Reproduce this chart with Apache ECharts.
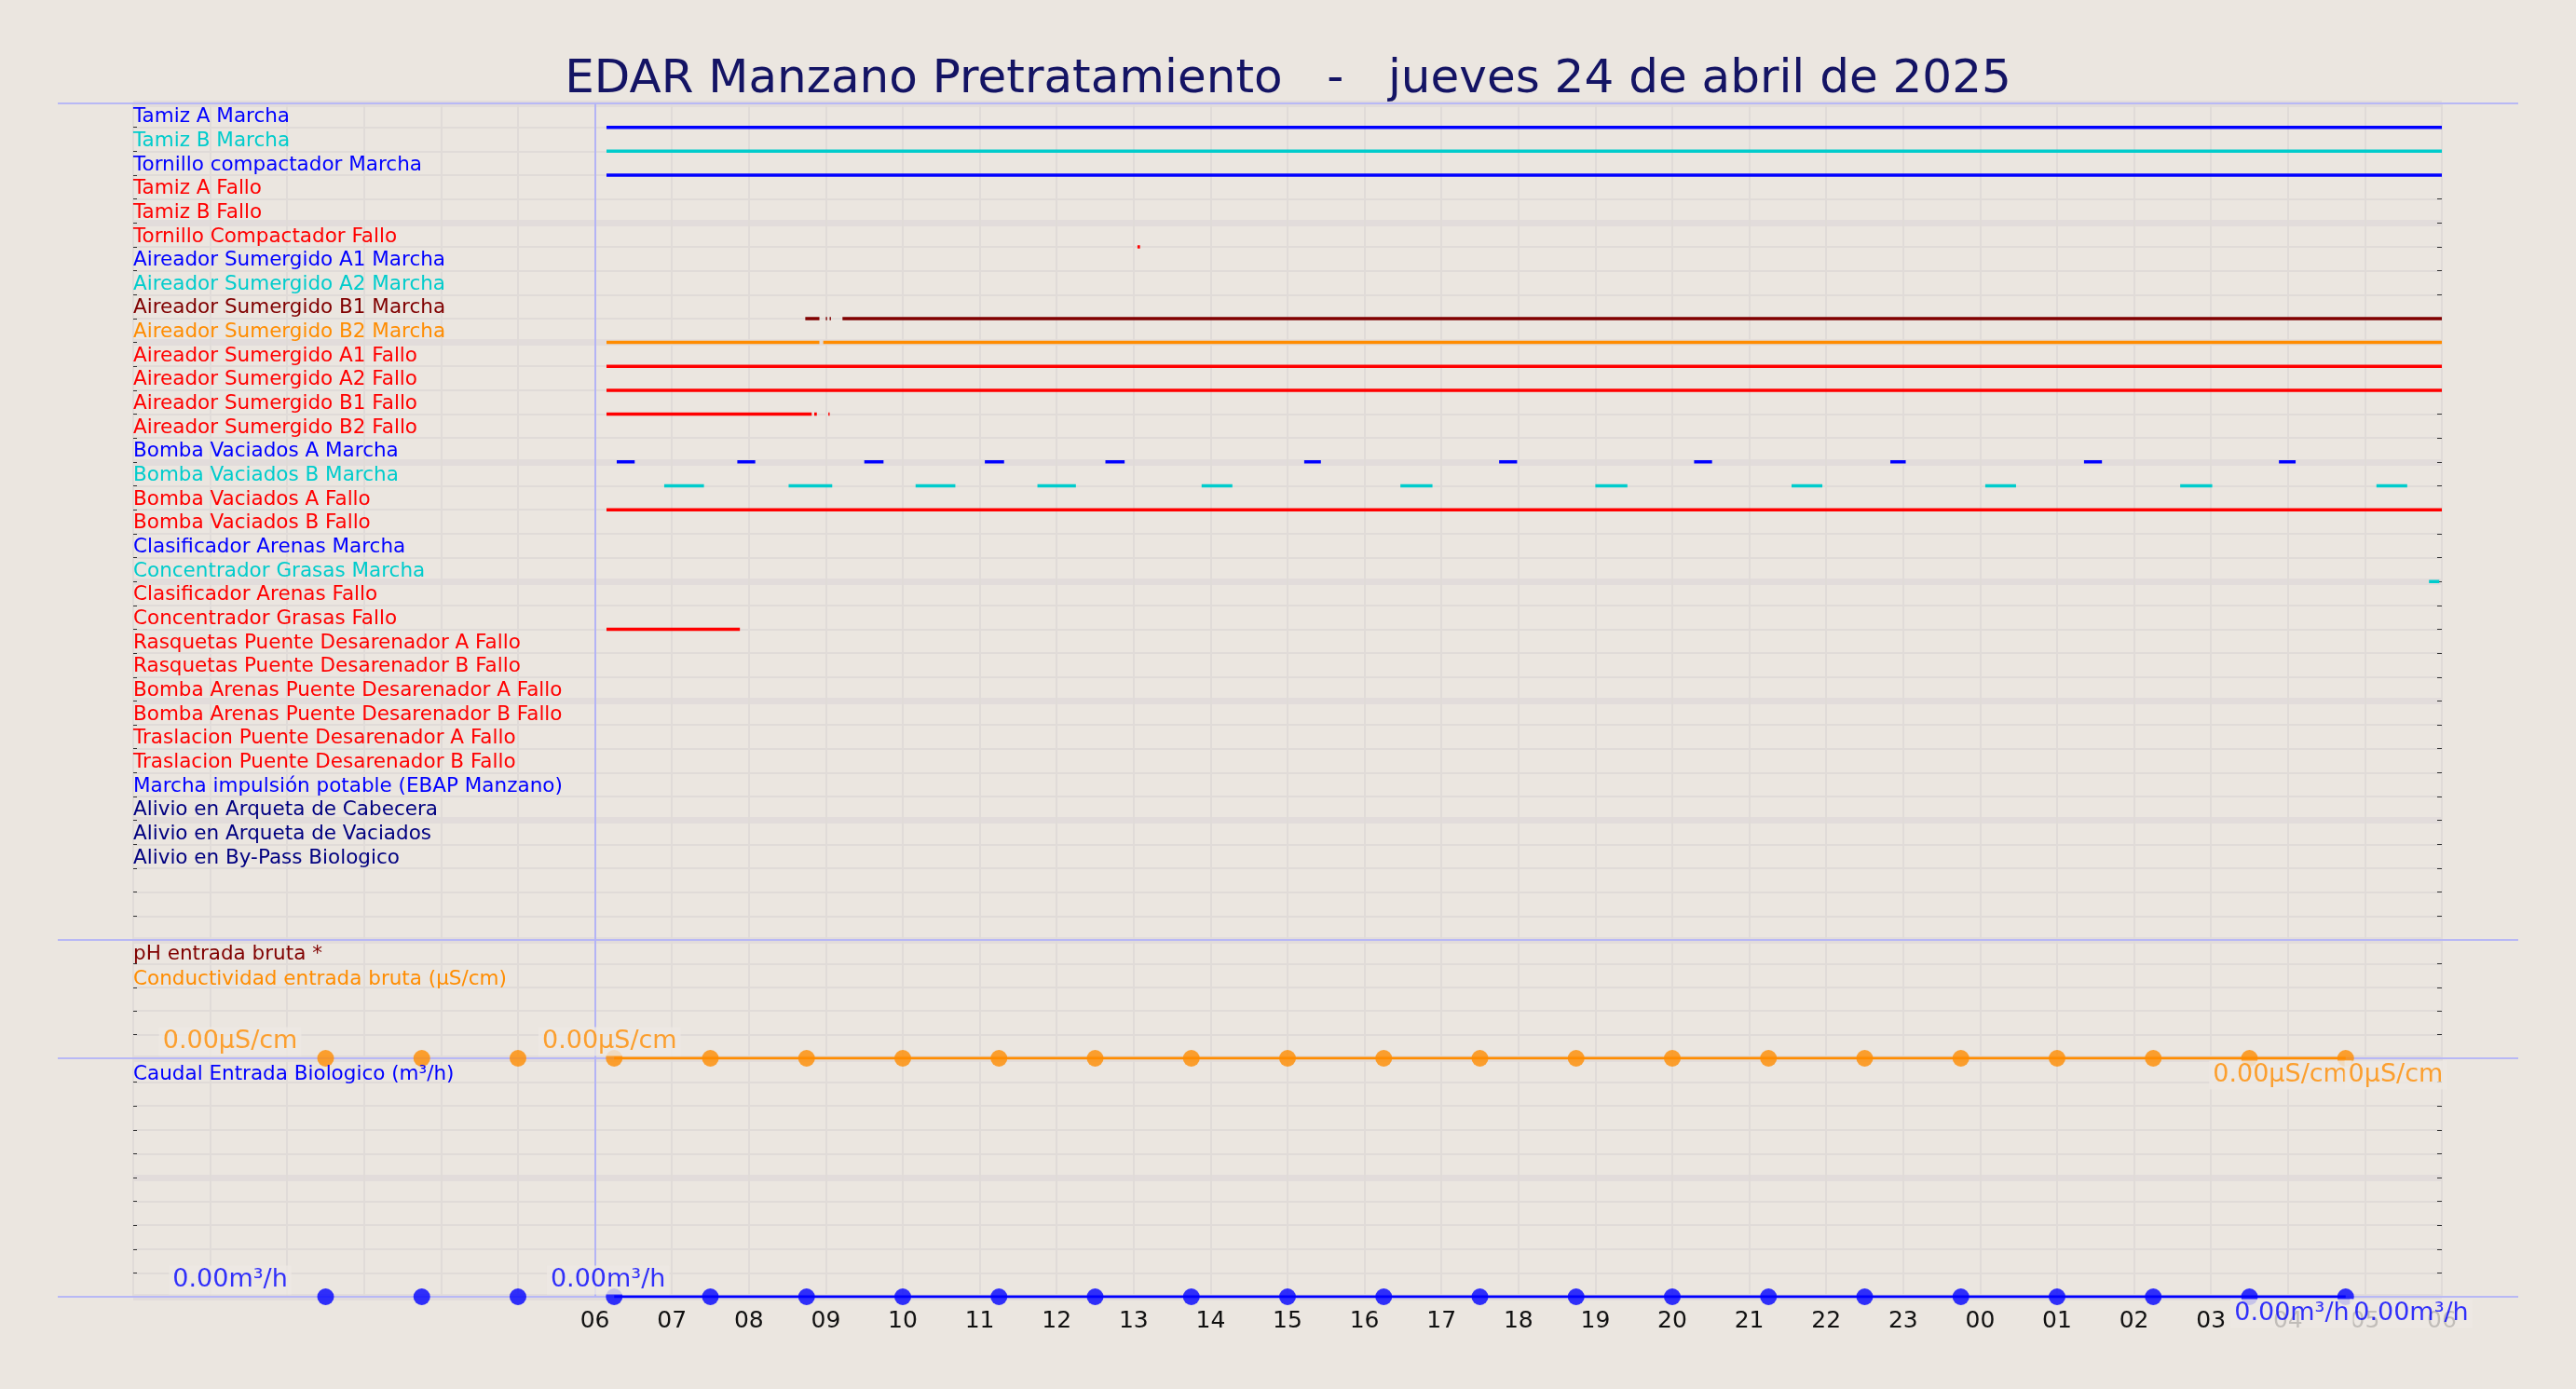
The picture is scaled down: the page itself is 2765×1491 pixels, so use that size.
<!DOCTYPE html>
<html><head><meta charset="utf-8">
<script src="https://cdn.jsdelivr.net/npm/echarts@6/dist/echarts.min.js"></script>
<style>html,body{margin:0;background:#ebe6e0}#c{width:2765px;height:1491px}</style>
</head><body><div id="c"></div>
<script>
const title = 'EDAR Manzano Pretratamiento   -   jueves 24 de abril de 2025';
const rowLabels = ['Tamiz A Marcha','Tamiz B Marcha','Tornillo compactador Marcha','Tamiz A Fallo','Tamiz B Fallo','Tornillo Compactador Fallo','Aireador Sumergido A1 Marcha','Aireador Sumergido A2 Marcha','Aireador Sumergido B1 Marcha','Aireador Sumergido B2 Marcha','Aireador Sumergido A1 Fallo','Aireador Sumergido A2 Fallo','Aireador Sumergido B1 Fallo','Aireador Sumergido B2 Fallo','Bomba Vaciados A Marcha','Bomba Vaciados B Marcha','Bomba Vaciados A Fallo','Bomba Vaciados B Fallo','Clasificador Arenas Marcha','Concentrador Grasas Marcha','Clasificador Arenas Fallo','Concentrador Grasas Fallo','Rasquetas Puente Desarenador A Fallo','Rasquetas Puente Desarenador B Fallo','Bomba Arenas Puente Desarenador A Fallo','Bomba Arenas Puente Desarenador B Fallo','Traslacion Puente Desarenador A Fallo','Traslacion Puente Desarenador B Fallo','Marcha impulsión potable (EBAP Manzano)','Alivio en Arqueta de Cabecera','Alivio en Arqueta de Vaciados','Alivio en By-Pass Biologico','',''];
const rowColors = ['#0000ff','#00cccc','#0000ff','#ff0000','#ff0000','#ff0000','#0000ff','#00cccc','#800000','#ff8c00','#ff0000','#ff0000','#ff0000','#ff0000','#0000ff','#00cccc','#ff0000','#ff0000','#0000ff','#00cccc','#ff0000','#ff0000','#ff0000','#ff0000','#ff0000','#ff0000','#ff0000','#ff0000','#0000ff','#000080','#000080','#000080','#000','#000'];
// segments per row (1-based row index): [start,end] clock times, times before 06:00 are next day
const segments = {
 1:[['06:09','06:00']],
 2:[['06:09','06:00']],
 3:[['06:09','06:00']],
 6:[['13:03','13:05']],
 9:[['08:44','08:55'],['09:00','09:01'],['09:03','09:04'],['09:13','06:00']],
 10:[['06:09','08:55'],['08:58','06:00']],
 11:[['06:09','06:00']],
 12:[['06:09','06:00']],
 13:[['06:09','08:49'],['08:51','08:53'],['09:02','09:03']],
 15:[['06:17','06:31'],['07:51','08:05'],['09:30','09:45'],['11:04','11:19'],['12:38','12:53'],['15:13','15:26'],['17:45','17:59'],['20:17','20:31'],['22:50','23:02'],['01:21','01:35'],['03:53','04:06']],
 16:[['06:54','07:25'],['08:31','09:05'],['10:10','10:41'],['11:45','12:15'],['13:53','14:17'],['16:28','16:53'],['19:00','19:25'],['21:33','21:57'],['00:04','00:28'],['02:36','03:01'],['05:09','05:33']],
 17:[['06:09','06:00']],
 20:[['05:50','05:58']],
 22:[['06:09','07:53']]
};
// sample times (hours from 00:00 of 24 Apr) for analog signals
const sampleHours = [2.5,3.75,5,6.25,7.5,8.75,10,11.25,12.5,13.75,15,16.25,17.5,18.75,20,21.25,22.5,23.75,25,26.25,27.5,28.75];
const condValues = [0,0,0,0,0,0,0,0,0,0,0,0,0,0,0,0,0,0,0,0,0,0];
const caudalValues = [0,0,0,0,0,0,0,0,0,0,0,0,0,0,0,0,0,0,0,0,0,0];
const condNotes = [[1.26,'0.00μS/cm','top'],[6.19,'0.00μS/cm','top'],[27.9,'0.00μS/cm','bottom'],[29.4,'0μS/cm','bottom']];
const caudalNotes = [[1.26,'0.00m³/h','top'],[6.17,'0.00m³/h','top'],[28.05,'0.00m³/h','bottom'],[29.6,'0.00m³/h','bottom']];

function toH(s, isEnd){const [h,m]=s.split(':').map(Number);let v=h+m/60; if(h<6 || (isEnd && h===6 && m===0)) v+=24; return v;}
const F='DejaVu Sans', BG='#ebe6e0', GRIDC='#e0dbd8';
const L=143, W=2478, NR=35;
const grids=[{left:L,width:W,top:111,height:898},{left:L,width:W,top:1009,height:127},{left:L,width:W,top:1136,height:256}];
const xAxes=grids.map((g,i)=>({type:'value',gridIndex:i,min:0,max:30,interval:1,
  axisLine:{show:false},axisTick:{show:false},
  axisLabel:{show:i===2,fontFamily:F,fontSize:25,color:'#111',margin:14,formatter:v=>v<6?'':String(Math.round(v)%24).padStart(2,'0')},
  splitLine:{show:true,lineStyle:{color:GRIDC,width:2}}}));
const rich={};rowColors.forEach((c,i)=>rich['r'+i]={color:c,fontFamily:F,fontSize:21.5});
const yAxes=[
 {type:'value',gridIndex:0,min:0,max:NR,interval:1,inverse:true,axisLine:{show:false},
  axisTick:{show:true,inside:true,length:4,lineStyle:{color:'#333'}},
  axisLabel:{inside:true,align:'left',verticalAlign:'bottom',margin:0,rich,
   formatter:v=>{const i=v-1;return (i>=0&&i<rowLabels.length&&rowLabels[i])?'{r'+i+'|'+rowLabels[i]+'}':'';}},
  splitLine:{lineStyle:{color:GRIDC,width:2}}},
 {type:'value',gridIndex:0,min:0,max:NR,interval:5,inverse:true,axisLine:{show:false},axisTick:{show:false},axisLabel:{show:false},splitLine:{lineStyle:{color:'#e2dcdb',width:7}}},
 {type:'value',gridIndex:0,position:'right',min:0,max:NR,interval:1,inverse:true,axisLine:{show:false},axisTick:{show:true,inside:true,length:5,lineStyle:{color:'#333'}},axisLabel:{show:false},splitLine:{show:false}},
 {type:'value',gridIndex:1,min:0,max:5,interval:1,axisLine:{show:false},axisTick:{show:true,inside:true,length:4,lineStyle:{color:'#333'}},axisLabel:{show:false},splitLine:{lineStyle:{color:GRIDC,width:2}}},
 {type:'value',gridIndex:1,position:'right',min:0,max:5,interval:1,axisLine:{show:false},axisTick:{show:true,inside:true,length:5,lineStyle:{color:'#333'}},axisLabel:{show:false},splitLine:{show:false}},
 {type:'value',gridIndex:2,min:0,max:10,interval:1,axisLine:{show:false},axisTick:{show:true,inside:true,length:4,lineStyle:{color:'#333'}},axisLabel:{show:false},splitLine:{lineStyle:{color:GRIDC,width:2}}},
 {type:'value',gridIndex:2,min:0,max:10,interval:5,axisLine:{show:false},axisTick:{show:false},axisLabel:{show:false},splitLine:{lineStyle:{color:'#e2dcdb',width:7}}},
 {type:'value',gridIndex:2,position:'right',min:0,max:10,interval:1,axisLine:{show:false},axisTick:{show:true,inside:true,length:5,lineStyle:{color:'#333'}},axisLabel:{show:false},splitLine:{show:false}}
];
const series=[];
Object.keys(segments).forEach(k=>{
  const r=+k, data=[];
  segments[k].forEach(([a,b],j)=>{ if(j) data.push(null); data.push([toH(a,false),r],[toH(b,true),r]); });
  series.push({type:'line',xAxisIndex:0,yAxisIndex:0,data,showSymbol:false,connectNulls:false,silent:true,animation:false,
    lineStyle:{color:rowColors[r-1],width:3.5},z:5});
});
const vline={silent:true,symbol:'none',label:{show:false},lineStyle:{color:'#b4b4f5',width:2,type:'solid'},data:[{xAxis:6}]};
series[0].markLine=vline;
function analog(gi,yi,vals,color,notes){
  const pts=sampleHours.map((h,i)=>[h,vals[i]]);
  series.push({type:'line',xAxisIndex:gi,yAxisIndex:yi,data:pts.filter(p=>p[0]>6),showSymbol:false,lineStyle:{color:color,width:3},animation:false,z:6});
  series.push({type:'scatter',xAxisIndex:gi,yAxisIndex:yi,data:pts,symbolSize:18,itemStyle:{color},animation:false,z:6,markLine:vline});
  series.push({type:'scatter',xAxisIndex:gi,yAxisIndex:yi,data:notes.map(n=>({value:[n[0],0],label:{position:n[2]}})),symbolSize:1,itemStyle:{color:'transparent'},z:8,animation:false,
    label:{show:true,formatter:p=>notes[p.dataIndex][1],color,fontFamily:F,fontSize:27,backgroundColor:'#ede9e4',padding:[2,4],distance:2}});
}
analog(1,3,condValues,'#ff8c00',condNotes);
analog(2,5,caudalValues,'#0000ff',caudalNotes);
const hl=(y)=>({type:'line',shape:{x1:62,y1:y,x2:2703,y2:y},style:{stroke:'#b8b8f5',lineWidth:2},z:1,zlevel:0});
const chart=echarts.init(document.getElementById('c'));
chart.setOption({
 backgroundColor:BG,animation:false,
 title:{text:title,left:'center',top:56,textStyle:{fontFamily:F,fontSize:50,fontWeight:'normal',color:'#141464'}},
 graphic:[hl(111),hl(1009),hl(1136),hl(1392),
  {type:'text',left:143,top:1013,style:{text:'pH entrada bruta *',fill:'#800000',font:'21.5px "DejaVu Sans"'},z:10},
  {type:'text',left:143,top:1040,style:{text:'Conductividad entrada bruta (μS/cm)',fill:'#ff8c00',font:'21.5px "DejaVu Sans"'},z:10},
  {type:'text',left:143,top:1142,style:{text:'Caudal Entrada Biologico (m³/h)',fill:'#0000ff',font:'21.5px "DejaVu Sans"'},z:10}],
 grid:grids,xAxis:xAxes,yAxis:yAxes,series
});
</script></body></html>
